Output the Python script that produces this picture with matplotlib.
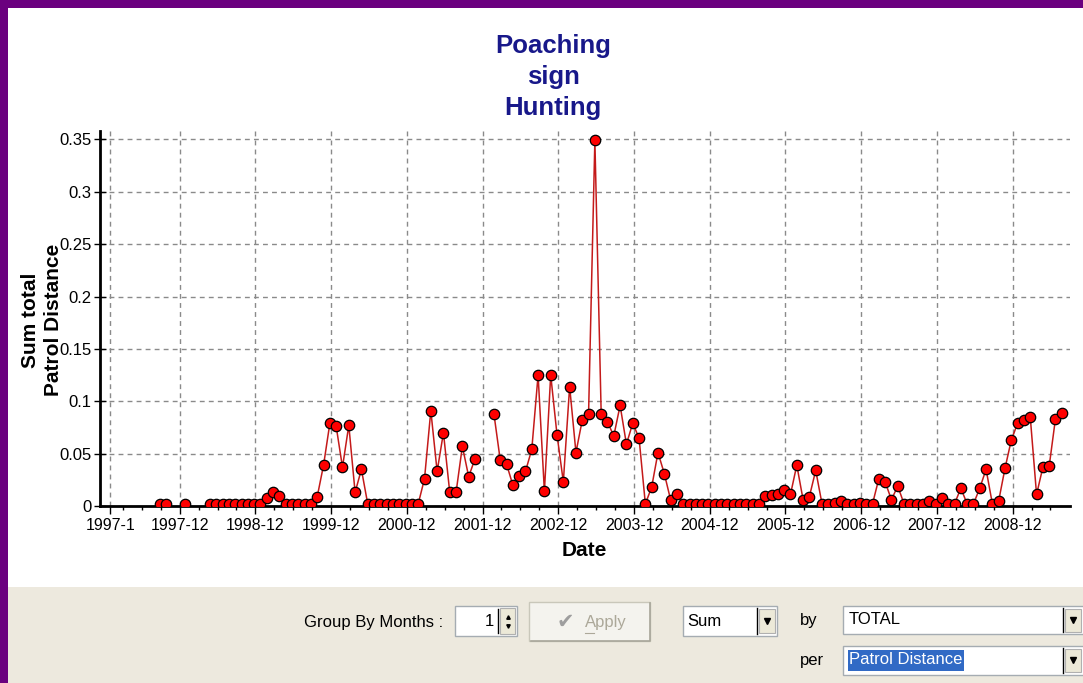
import matplotlib
matplotlib.use('Agg')
import matplotlib.pyplot as plt
import numpy as np
from matplotlib.patches import Rectangle
from matplotlib.lines import Line2D

plt.rcParams['font.family'] = ['Liberation Sans', 'DejaVu Sans']

# monthly sums per patrol distance, first value is 1997-8 (month index 7), None = no data
first_idx = 7
values = [0.002, 0.002, None, None, 0.002, None, None, None, 0.002, 0.002, 0.002, 0.002,
          0.002, 0.002, 0.002, 0.002, 0.002, 0.008, 0.013, 0.010, 0.002, 0.002, 0.002, 0.002,
          0.002, 0.009, 0.039, 0.079, 0.076, 0.037, 0.077, 0.013, 0.035, 0.002, 0.002, 0.002,
          0.002, 0.002, 0.002, 0.002, 0.002, 0.002, 0.026, 0.091, 0.033, 0.070, 0.013, 0.013,
          0.057, 0.028, 0.045, None, None, 0.088, 0.044, 0.040, 0.020, 0.029, 0.033, 0.054,
          0.125, 0.014, 0.125, 0.068, 0.023, 0.114, 0.051, 0.082, 0.088, 0.349, 0.088, 0.080,
          0.067, 0.096, 0.059, 0.079, 0.065, 0.002, 0.018, 0.051, 0.031, 0.006, 0.011, 0.002,
          0.002, 0.002, 0.002, 0.002, 0.002, 0.002, 0.002, 0.002, 0.002, 0.002, 0.002, 0.002,
          0.0095, 0.0105, 0.011, 0.015, 0.011, 0.039, 0.006, 0.009, 0.034, 0.002, 0.002, 0.003,
          0.005, 0.002, 0.002, 0.003, 0.002, 0.002, 0.026, 0.023, 0.006, 0.019, 0.002, 0.002,
          0.002, 0.002, 0.005, 0.002, 0.008, 0.002, 0.002, 0.017, 0.002, 0.002, 0.017, 0.035,
          0.002, 0.005, 0.036, 0.063, 0.079, 0.0825, 0.085, 0.011, 0.037, 0.038, 0.0835, 0.089]

tick_months = [0] + [11 + 12 * i for i in range(12)]
tick_labels = ['1997-1'] + ['%d-12' % y for y in range(1997, 2009)]
yticks = [0, 0.05, 0.1, 0.15, 0.2, 0.25, 0.3, 0.35]
ytick_labels = ['0', '0.05', '0.1', '0.15', '0.2', '0.25', '0.3', '0.35']

W, H = 1083, 683
fig = plt.figure(figsize=(W / 100, H / 100), dpi=100)
fig.patch.set_facecolor('white')


def box(x0, y0, x1, y1, fc, ec='none', lw=1, z=1):
    r = Rectangle((x0 / W, 1 - y1 / H), (x1 - x0) / W, (y1 - y0) / H,
                  transform=fig.transFigure, facecolor=fc, edgecolor=ec, linewidth=lw, zorder=z)
    fig.add_artist(r)


def ftext(x, y, s, **kw):
    fig.text(x / W, 1 - y / H, s, **kw)


def fline(xs, ys, **kw):
    fig.add_artist(Line2D([x / W for x in xs], [1 - y / H for y in ys],
                          transform=fig.transFigure, **kw))


# window frame and bottom panel
box(0, 0, 8, H, '#6B007F')
box(0, 0, W, 8, '#6B007F')
box(8, 587, W, H, '#EDE9DE')

ax = fig.add_axes([100 / W, (H - 506) / H, 970 / W, 375 / H])
x = np.arange(len(values)) + first_idx + 0.8
y = np.array([np.nan if v is None else v for v in values])
ax.plot(x, y, color='#C41A1A', lw=1.1, marker='o', markersize=7.5,
        markerfacecolor='#FF0000', markeredgecolor='black', markeredgewidth=0.9, zorder=3)

ax.set_xlim(-1.63, 152.1)
ax.set_ylim(0, 0.358)
ax.set_xticks(tick_months)
ax.set_xticklabels(tick_labels)
ax.set_xticks(np.arange(2, 152, 3), minor=True)
ax.set_yticks(yticks)
ax.set_yticklabels(ytick_labels)
ax.grid(True, which='major', color='#8a8a8a', linestyle=(0, (3.5, 3)), linewidth=1)
for s in ['top', 'right']:
    ax.spines[s].set_visible(False)
for s in ['left', 'bottom']:
    ax.spines[s].set_linewidth(2)
    ax.spines[s].set_color('black')
ax.tick_params(axis='x', which='major', length=6, width=1, labelsize=11.5, pad=3)
ax.tick_params(axis='x', which='minor', length=3, width=1)
ax.tick_params(axis='y', which='major', direction='inout', length=8, width=1, labelsize=12, pad=2)
ax.set_axisbelow(True)

# titles
ftext(553, 77, 'Poaching\nsign\nHunting', ha='center', va='center', fontsize=18.5,
      fontweight='bold', color='#18188A', linespacing=1.38)
ftext(42, 320, 'Sum total\nPatrol Distance', ha='center', va='center', rotation=90,
      fontsize=15, fontweight='bold', multialignment='center', linespacing=1.3)
ftext(584, 550, 'Date', ha='center', va='center', fontsize=15, fontweight='bold')

# controls
ftext(443, 622, 'Group By Months :', ha='right', va='center', fontsize=12)
box(455, 606, 517, 636, 'white', '#A5ACB2')
ftext(494, 621, '1', ha='right', va='center', fontsize=12)
fline([497.5, 497.5], [609, 633], color='black', lw=1)
box(500, 608, 515, 634, '#ECE9D8', '#B0B0B0', lw=0.8)
fline([508], [617], marker='^', markersize=2.5, color='black', lw=0)
fline([508], [626], marker='v', markersize=2.5, color='black', lw=0)

box(529, 602, 650, 641, '#F4F3EE', '#C9C7BA')
fline([531, 650, 650], [641, 641, 603], color='#A8A69A', lw=1.2)
ftext(565, 622, '\u2714', ha='center', va='center', fontsize=15, color='#9E9E9E',
      family='DejaVu Sans')
ftext(585, 623, 'Apply', ha='left', va='center', fontsize=12, color='#ACA899')
fline([585, 594], [633, 633], color='#ACA899', lw=0.8)

box(683, 606, 777, 636, 'white', '#A5ACB2')
ftext(687, 621, 'Sum', ha='left', va='center', fontsize=12)
fline([757, 757], [608, 634], color='black', lw=1)
box(759, 609, 775, 633, '#ECE9D8', '#B0B0B0', lw=0.8)
fline([767], [621], marker='v', markersize=4, color='black', lw=0)

ftext(800, 620, 'by', ha='left', va='center', fontsize=12)
box(843, 606, 1090, 634, 'white', '#A5ACB2')
ftext(849, 620, 'TOTAL', ha='left', va='center', fontsize=12)
fline([1063, 1063], [608, 632], color='black', lw=1)
box(1065, 609, 1081, 632, '#ECE9D8', '#B0B0B0', lw=0.8)
fline([1073], [620], marker='v', markersize=4, color='black', lw=0)

ftext(800, 660, 'per', ha='left', va='center', fontsize=12)
box(843, 646, 1090, 675, 'white', '#A5ACB2')
box(848, 650, 964, 671, '#316AC5')
ftext(849, 660, 'Patrol Distance', ha='left', va='center', fontsize=12, color='white')
fline([1063, 1063], [648, 673], color='black', lw=1)
box(1065, 649, 1081, 672, '#ECE9D8', '#B0B0B0', lw=0.8)
fline([1073], [660], marker='v', markersize=4, color='black', lw=0)

fig.savefig('out.png', dpi=100)
